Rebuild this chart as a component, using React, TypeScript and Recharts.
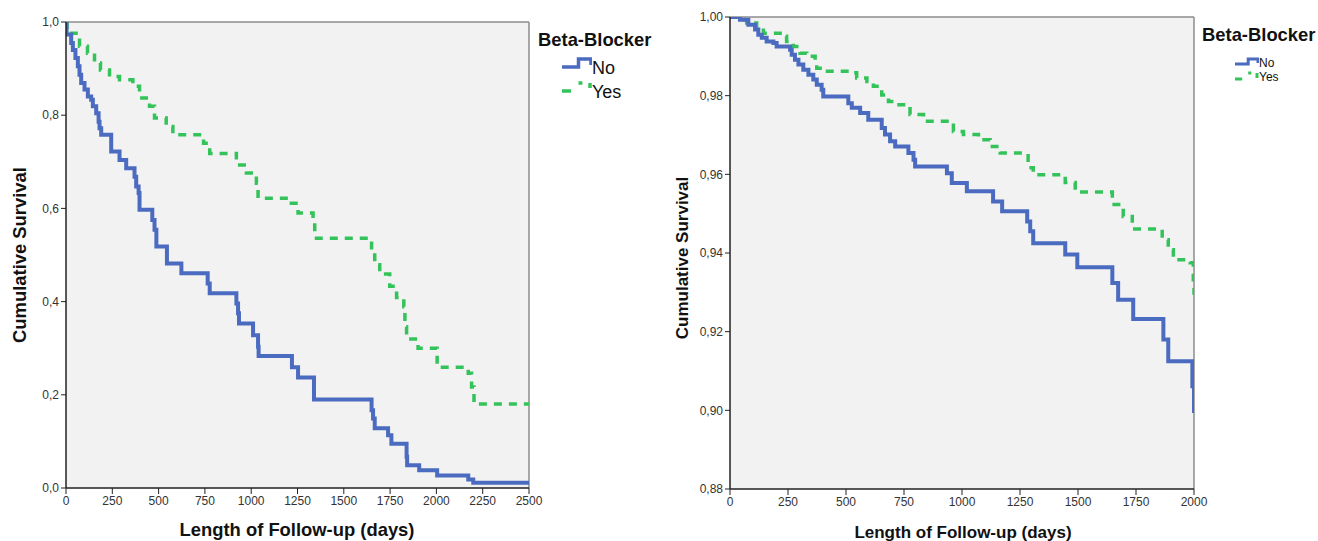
import { LineChart, Line, XAxis, YAxis, CartesianGrid, ReferenceLine } from "recharts"

// left panel: all patients
const leftNoDays = [0, 3, 28, 37, 51, 64, 73, 82, 100, 118, 136, 145, 163, 176, 181, 190, 244, 289, 325, 370, 379, 392, 397, 466, 478, 488, 545, 623, 765, 776, 920, 929, 934, 1010, 1037, 1040, 1220, 1253, 1339, 1650, 1658, 1667, 1739, 1757, 1839, 1842, 1907, 2004, 2172, 2199, 2500]
const leftNoSurv = [1, 0.973, 0.955, 0.94, 0.923, 0.905, 0.887, 0.869, 0.855, 0.84, 0.833, 0.819, 0.804, 0.786, 0.772, 0.758, 0.722, 0.704, 0.686, 0.668, 0.647, 0.633, 0.597, 0.575, 0.554, 0.518, 0.482, 0.461, 0.439, 0.418, 0.396, 0.375, 0.353, 0.328, 0.303, 0.283, 0.259, 0.237, 0.19, 0.167, 0.149, 0.128, 0.113, 0.095, 0.067, 0.049, 0.038, 0.027, 0.018, 0.011, 0.011]
const leftYesDays = [0, 5, 73, 116, 154, 186, 235, 289, 361, 397, 451, 478, 541, 577, 743, 776, 920, 974, 1028, 1037, 1217, 1253, 1334, 1343, 1650, 1667, 1694, 1748, 1785, 1824, 1830, 1839, 1901, 2004, 2172, 2190, 2203, 2500]
const leftYesSurv = [1, 0.976, 0.948, 0.933, 0.912, 0.897, 0.883, 0.876, 0.862, 0.837, 0.819, 0.794, 0.776, 0.758, 0.74, 0.718, 0.693, 0.676, 0.654, 0.622, 0.611, 0.59, 0.579, 0.536, 0.511, 0.479, 0.459, 0.433, 0.409, 0.389, 0.346, 0.32, 0.3, 0.259, 0.246, 0.217, 0.18, 0.18]

// right panel
const rightNoDays = [0, 43, 79, 108, 122, 137, 158, 187, 201, 259, 266, 280, 295, 316, 338, 359, 374, 395, 402, 510, 525, 561, 596, 654, 668, 690, 712, 769, 791, 798, 935, 956, 1021, 1134, 1173, 1281, 1294, 1307, 1445, 1497, 1648, 1673, 1738, 1868, 1889, 1993, 2000]
const rightNoSurv = [1, 0.9993, 0.998, 0.9968, 0.9955, 0.9947, 0.9938, 0.9934, 0.9925, 0.9917, 0.9904, 0.9891, 0.9879, 0.9866, 0.9853, 0.9841, 0.9828, 0.9815, 0.9798, 0.9781, 0.9769, 0.9756, 0.9739, 0.9718, 0.9701, 0.9684, 0.9671, 0.9654, 0.9637, 0.962, 0.9603, 0.9578, 0.9557, 0.9531, 0.9506, 0.948, 0.9455, 0.9425, 0.9396, 0.9364, 0.9324, 0.9281, 0.9232, 0.918, 0.9125, 0.9061, 0.8993]
const rightYesDays = [0, 36, 72, 115, 144, 237, 244, 273, 302, 331, 367, 374, 402, 518, 546, 590, 618, 647, 654, 683, 719, 776, 834, 949, 963, 1006, 1071, 1121, 1165, 1285, 1307, 1445, 1488, 1648, 1695, 1734, 1863, 1889, 1911, 1984, 1997, 2000]
const rightYesSurv = [1, 0.9993, 0.9985, 0.9972, 0.9959, 0.9951, 0.9938, 0.9925, 0.9908, 0.99, 0.9883, 0.987, 0.9862, 0.9858, 0.9845, 0.9836, 0.9824, 0.9815, 0.9802, 0.9785, 0.9777, 0.9752, 0.9735, 0.9731, 0.9709, 0.9701, 0.9688, 0.9671, 0.9654, 0.9617, 0.9599, 0.9579, 0.9555, 0.9523, 0.9493, 0.9461, 0.9434, 0.9408, 0.9383, 0.9375, 0.9332, 0.9294]

const leftXTicks = [0, 250, 500, 750, 1000, 1250, 1500, 1750, 2000, 2250, 2500]
const leftYTicks = [0, 0.2, 0.4, 0.6, 0.8, 1.0]
const rightXTicks = [0, 250, 500, 750, 1000, 1250, 1500, 1750, 2000]
const rightYTicks = [0.88, 0.9, 0.92, 0.94, 0.96, 0.98, 1.0]

const BLUE = "#4a6bbf"
const GREEN = "#34c35a"
const FONT = "'Liberation Sans', Arial, sans-serif"

const zip = (days: number[], surv: number[]) => days.map((t, i) => ({ t, s: surv[i] }))

const tickStyle = { fill: "#333", fontSize: 12, fontFamily: FONT }
const axisLine = { stroke: "#222", strokeWidth: 1.5 }

function Panel(props: {
  left: number
  width: number
  margin: { top: number; right: number; bottom: number; left: number }
  xMax: number
  xTicks: number[]
  yMin: number
  yTicks: number[]
  digits: number
  no: { t: number; s: number }[]
  yes: { t: number; s: number }[]
}) {
  const fmt = (v: number) => v.toFixed(props.digits).replace(".", ",")
  return (
    <div style={{ position: "absolute", left: props.left, top: 0 }}>
      <LineChart width={props.width} height={541} margin={props.margin}>
        <CartesianGrid fill="#f2f2f2" horizontal={false} vertical={false} />
        <XAxis
          type="number"
          dataKey="t"
          domain={[0, props.xMax]}
          ticks={props.xTicks}
          allowDataOverflow
          height={30}
          tick={tickStyle}
          axisLine={axisLine}
          tickLine={{ stroke: "#222" }}
          tickSize={6}
        />
        <YAxis
          type="number"
          dataKey="s"
          domain={[props.yMin, 1]}
          ticks={props.yTicks}
          allowDataOverflow
          width={50}
          tick={tickStyle}
          tickFormatter={fmt}
          axisLine={axisLine}
          tickLine={{ stroke: "#222" }}
          tickSize={5}
        />
        <ReferenceLine y={1} stroke="#8c8c8c" strokeWidth={1.5} />
        <ReferenceLine x={props.xMax} stroke="#8c8c8c" strokeWidth={1.5} />
        <Line
          data={props.yes}
          dataKey="s"
          type="stepAfter"
          stroke={GREEN}
          strokeWidth={3.5}
          strokeDasharray="8 7"
          dot={false}
          isAnimationActive={false}
        />
        <Line
          data={props.no}
          dataKey="s"
          type="stepAfter"
          stroke={BLUE}
          strokeWidth={4}
          dot={false}
          isAnimationActive={false}
        />
      </LineChart>
    </div>
  )
}

function Text(props: { x: number; y: number; size: number; bold?: boolean; children: string; rotate?: boolean }) {
  return (
    <div
      style={{
        position: "absolute",
        left: props.x,
        top: props.y,
        fontFamily: FONT,
        fontSize: props.size,
        fontWeight: props.bold ? "bold" : "normal",
        color: "#111",
        whiteSpace: "nowrap",
        lineHeight: 1,
        transform: props.rotate ? "translate(-50%, -50%) rotate(-90deg)" : "translate(-50%, -50%)",
      }}
    >
      {props.children}
    </div>
  )
}

function Legend(props: { x: number; y: number; small?: boolean }) {
  const s = props.small
  const iconW = s ? 24 : 30
  const gap = s ? 14 : 24
  return (
    <div style={{ position: "absolute", left: props.x, top: props.y, fontFamily: FONT, color: "#111" }}>
      <div style={{ fontSize: 18.4, fontWeight: "bold", lineHeight: "20px", whiteSpace: "nowrap" }}>Beta-Blocker</div>
      <div style={{ position: "absolute", left: s ? 33 : 24, top: s ? 31 : 26, width: 120 }}>
        <svg width={iconW} height={gap * 2} style={{ position: "absolute", left: 0, top: 0 }}>
          <path
            d={`M0 ${s ? 8 : 11} H${iconW * 0.55} V3 H${iconW - 1} V${s ? 7 : 9}`}
            fill="none"
            stroke={BLUE}
            strokeWidth={s ? 3 : 3.5}
          />
          <path
            d={`M0 ${gap + (s ? 9 : 11)} H${iconW * 0.3} M${iconW * 0.55} ${gap + 3} H${iconW * 0.68} M${iconW - 2} ${gap + 3} V${gap + 8}`}
            fill="none"
            stroke={GREEN}
            strokeWidth={s ? 3 : 3.5}
          />
        </svg>
        <div style={{ position: "absolute", left: iconW, top: 0, fontSize: s ? 12 : 18, lineHeight: `${gap}px` }}>No</div>
        <div style={{ position: "absolute", left: iconW, top: gap, fontSize: s ? 12 : 18, lineHeight: `${gap}px` }}>Yes</div>
      </div>
    </div>
  )
}

export default function App() {
  return (
    <div style={{ position: "absolute", left: 0, top: 0, width: 1318, height: 541, background: "#fff", overflow: "hidden" }}>
      <Panel
        left={0}
        width={660}
        margin={{ top: 22, right: 131, bottom: 23, left: 16 }}
        xMax={2500}
        xTicks={leftXTicks}
        yMin={0}
        yTicks={leftYTicks}
        digits={1}
        no={zip(leftNoDays, leftNoSurv)}
        yes={zip(leftYesDays, leftYesSurv)}
      />
      <Panel
        left={660}
        width={658}
        margin={{ top: 17, right: 124, bottom: 22, left: 20 }}
        xMax={2000}
        xTicks={rightXTicks}
        yMin={0.88}
        yTicks={rightYTicks}
        digits={2}
        no={zip(rightNoDays, rightNoSurv)}
        yes={zip(rightYesDays, rightYesSurv)}
      />
      <Text x={20} y={255} size={18.4} bold rotate>Cumulative Survival</Text>
      <Text x={297} y={530} size={18.4} bold>Length of Follow-up (days)</Text>
      <Text x={682} y={258} size={17} bold rotate>Cumulative Survival</Text>
      <Text x={963} y={532} size={17} bold>Length of Follow-up (days)</Text>
      <Legend x={538} y={30} />
      <Legend x={1202} y={25} small />
    </div>
  )
}
